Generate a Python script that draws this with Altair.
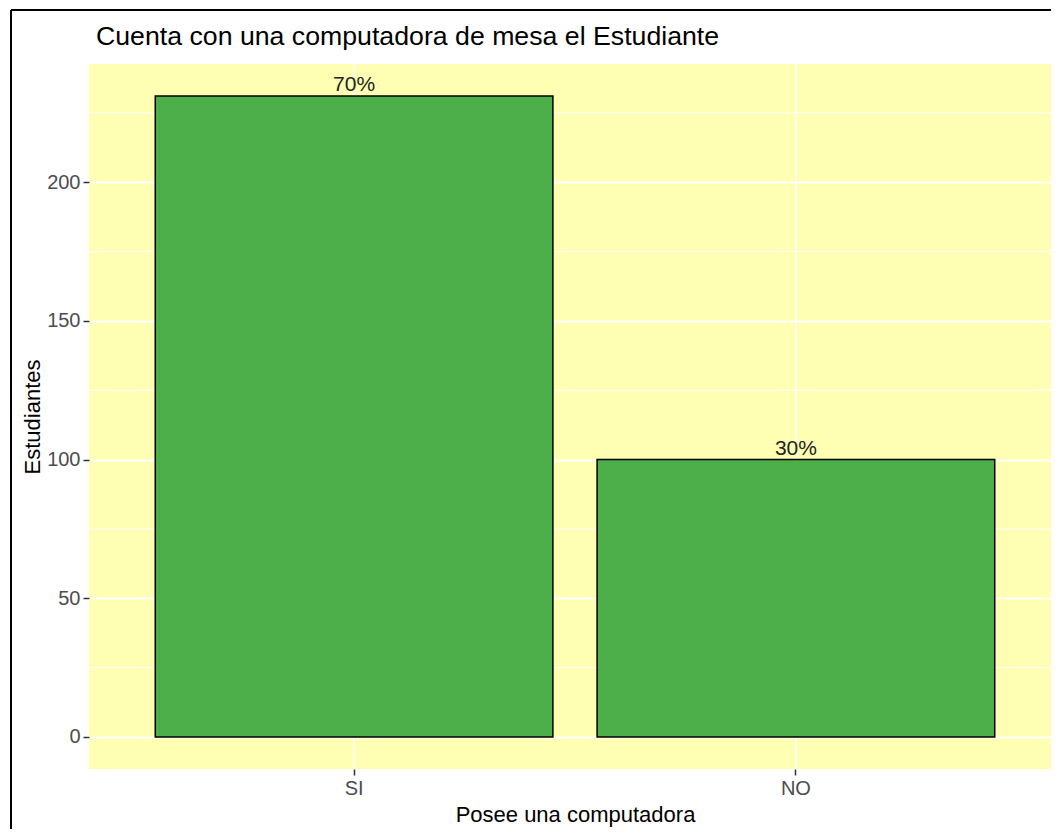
import altair as alt
import pandas as pd

categorias = ["SI", "NO"]
estudiantes = [231, 100]
total = sum(estudiantes)
etiquetas = [f"{round(100 * v / total)}%" for v in estudiantes]
y_ticks = [0, 50, 100, 150, 200]
minor_breaks = [25, 75, 125, 175, 225]

df = pd.DataFrame({"cat": categorias, "n": estudiantes, "lab": etiquetas})
minor_df = pd.DataFrame({"n": minor_breaks})

ymax = max(estudiantes)
ydom = [-0.05 * ymax, ymax * 1.05]

FONT = "Liberation Sans"
YEL = "#FFFFB3"
GREEN = "#4DAF4A"

xscale = alt.Scale(domain=categorias, range=[0, 972], paddingInner=0.1, paddingOuter=0.15)
yscale = alt.Scale(domain=ydom, nice=False, zero=False)

xaxis = alt.Axis(title="Posee una computadora", labelAngle=0, grid=False,
                 domain=False, tickSize=6, tickColor="#333333", tickWidth=1.5,
                 labelFontSize=20, labelColor="#4D4D4D", labelPadding=3,
                 titleFontSize=22, titleColor="black", titleFontWeight="normal",
                 titlePadding=6, labelFont=FONT, titleFont=FONT)
yaxis = alt.Axis(title="Estudiantes", values=y_ticks, grid=True, gridColor="white",
                 gridWidth=2, domain=False, tickSize=6, tickColor="#333333",
                 tickWidth=1.5, labelFontSize=20, labelColor="#4D4D4D",
                 labelPadding=3, titleFontSize=22, titleColor="black",
                 titleFontWeight="normal", titlePadding=2, labelFont=FONT,
                 titleFont=FONT)

xenc = alt.X("cat:N", scale=xscale, sort=categorias, axis=xaxis)
yenc = alt.Y("n:Q", scale=yscale, axis=yaxis)

minor = alt.Chart(minor_df).mark_rule(color="white", strokeWidth=1).encode(y=yenc)
vgrid = alt.Chart(df).mark_rule(color="white", strokeWidth=1.5).encode(x=xenc)
bars = alt.Chart(df).mark_bar(color=GREEN, stroke="black", strokeWidth=1.5).encode(
    x=xenc, y=yenc
)
text = alt.Chart(df).mark_text(baseline="alphabetic", dy=-5, fontSize=21, font=FONT,
                               color="#222222").encode(
    x=xenc, y=yenc, text="lab:N",
)
frame_top = alt.Chart(df).mark_rule(color="black", strokeWidth=2).encode(
    x=alt.value(-78), x2=alt.value(1100), y=alt.value(-54)
)
frame_left = alt.Chart(df).mark_rule(color="black", strokeWidth=2).encode(
    x=alt.value(-78), y=alt.value(-54), y2=alt.value(900)
)

chart = alt.layer(minor, vgrid, bars, text, frame_top, frame_left).properties(
    width=962, height=705,
    background="white",
    title=alt.TitleParams("Cuenta con una computadora de mesa el Estudiante",
                          anchor="start", frame="group", fontSize=26.7, font=FONT,
                          fontWeight="normal", color="black", offset=12, dx=7, dy=54),
    autosize=alt.AutoSizeParams(type="none"),
    padding={"left": 81, "top": 56, "right": 0, "bottom": 60},
).configure_view(fill=YEL, stroke=None)

chart.save("out.html", embed_options={"renderer": "svg", "actions": False})
